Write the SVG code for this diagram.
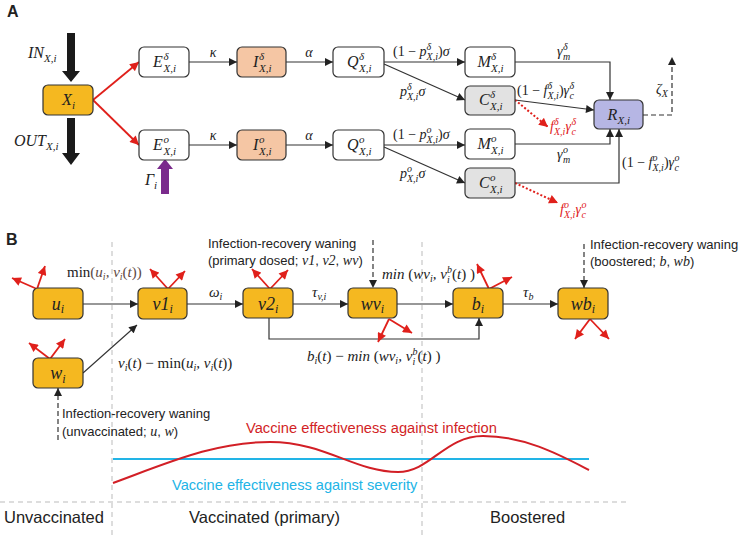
<svg xmlns="http://www.w3.org/2000/svg" width="742" height="535" viewBox="0 0 742 535">
<style>
.box{stroke:#333;stroke-width:1.2}
.gold{fill:#F5B820}
.peach{fill:#F5C6A4}
.white{fill:#fff}
.gray{fill:#E2E2E2}
.lav{fill:#B6B6E4}
.m{font-family:"Liberation Serif","DejaVu Serif",serif;font-style:italic;fill:#222}
.nl{font-size:16px}
.s{font-size:11px}
.bl{font-size:18px}
.bs{font-size:12px}
.el{font-size:14px}
.es{font-size:10px}
.bt{font-size:15px}
.up{font-style:normal}
.sans{font-family:"Liberation Sans","Noto Sans",sans-serif;fill:#222}
.wan{font-size:13px}
.ln{fill:none;stroke:#333;stroke-width:1.2}
.red{fill:none;stroke:#E0201B;stroke-width:1.8}
.dot{fill:none;stroke:#E0201B;stroke-width:2;stroke-dasharray:2 2}
.dash{fill:none;stroke:#333;stroke-width:1.2;stroke-dasharray:5 3}
.gdash{fill:none;stroke:#bbb;stroke-width:1;stroke-dasharray:5 4}
</style>
<defs>
<marker id="ab" viewBox="0 0 10 10" refX="10" refY="5" markerWidth="9" markerHeight="8" markerUnits="userSpaceOnUse" orient="auto"><path d="M0,0 L10,5 L0,10 z" fill="#222"/></marker>
<marker id="ar" viewBox="0 0 10 10" refX="10" refY="5" markerWidth="10" markerHeight="9" markerUnits="userSpaceOnUse" orient="auto"><path d="M0,0 L10,5 L0,10 z" fill="#E0201B"/></marker>
</defs>
<rect width="742" height="535" fill="#fff"/>

<text class="sans" x="7" y="17" font-size="16" font-weight="bold">A</text>
<text class="sans" x="6" y="245" font-size="16" font-weight="bold">B</text>

<!-- background guides for panel B -->
<g id="guides">
<path class="gdash" d="M112,242 V535 M422,242 V535 M0,502 H630"/>
<path d="M113,459 H589" fill="none" stroke="#22B4E6" stroke-width="2"/>
<path d="M113,483 C170,462 215,442 270,442 C325,442 355,472 398,472 C430,472 445,436 483,436 C525,436 560,455 589,470" fill="none" stroke="#D21F26" stroke-width="2"/>
<text class="sans" x="246" y="433" font-size="14.7" style="fill:#D21F26">Vaccine effectiveness against infection</text>
<text class="sans" x="172" y="490" font-size="14.6" style="fill:#22B4E6">Vaccine effectiveness against severity</text>
<text class="sans" x="4" y="523" font-size="16.5">Unvaccinated</text>
<text class="sans" x="189" y="523" font-size="16.5">Vaccinated (primary)</text>
<text class="sans" x="490" y="523" font-size="16.5">Boostered</text>
</g>

<!-- connectors -->
<g id="connectors">
<!-- panel A -->
<path d="M67,33 H75 V71 H80 L71,82 L62,71 H67 Z" fill="#1a1a1a"/>
<path d="M67,118 H75 V153 H80 L71,165 L62,153 H67 Z" fill="#1a1a1a"/>
<path d="M161,194 V169 H157 L165,159 L173,169 H169 V194 Z" fill="#7A2A8C"/>
<path class="red" d="M93,100 L139,62" marker-end="url(#ar)"/>
<path class="red" d="M93,100 L139,145" marker-end="url(#ar)"/>
<path class="ln" d="M189,62 H237" marker-end="url(#ab)"/>
<path class="ln" d="M189,145 H237" marker-end="url(#ab)"/>
<path class="ln" d="M286,62 H333" marker-end="url(#ab)"/>
<path class="ln" d="M286,145 H333" marker-end="url(#ab)"/>
<path class="ln" d="M384,62 H465" marker-end="url(#ab)"/>
<path class="ln" d="M384,64 L465,100" marker-end="url(#ab)"/>
<path class="ln" d="M384,145 H465" marker-end="url(#ab)"/>
<path class="ln" d="M384,147 L465,183" marker-end="url(#ab)"/>
<path class="ln" d="M515,62 H610 V100" marker-end="url(#ab)"/>
<path class="ln" d="M515,100 L594,110" marker-end="url(#ab)"/>
<path class="ln" d="M515,144 H610 V129" marker-end="url(#ab)"/>
<path class="ln" d="M515,183 H619 V129" marker-end="url(#ab)"/>
<path class="dot" d="M515,100 L548,127" marker-end="url(#ar)"/>
<path class="dot" d="M515,183 L558,203" marker-end="url(#ar)"/>
<path class="dash" d="M643,115 H672 V57" marker-end="url(#ab)"/>

<text class="m el" x="213" y="57" text-anchor="middle">κ</text>
<text class="m el" x="213" y="140" text-anchor="middle">κ</text>
<text class="m el" x="309" y="57" text-anchor="middle">α</text>
<text class="m el" x="309" y="140" text-anchor="middle">α</text>

<text class="m el" x="393" y="56"><tspan class="up">(1 − </tspan>p<tspan class="es" x="426.6" y="50">δ</tspan><tspan class="es" x="426.6" y="60">X,i</tspan><tspan class="up" y="56">)</tspan>σ</text>
<text class="m el" x="393" y="139"><tspan class="up">(1 − </tspan>p<tspan class="es" x="426.6" y="133">o</tspan><tspan class="es" x="426.6" y="143">X,i</tspan><tspan class="up" y="139">)</tspan>σ</text>
<text class="m el" x="400" y="96">p<tspan class="es" x="407" y="90">δ</tspan><tspan class="es" x="407" y="100">X,i</tspan><tspan y="96">σ</tspan></text>
<text class="m el" x="400" y="178">p<tspan class="es" x="407" y="172">o</tspan><tspan class="es" x="407" y="182">X,i</tspan><tspan y="178">σ</tspan></text>

<text class="m el" x="557" y="56">γ<tspan class="es" x="563" y="50">δ</tspan><tspan class="es" x="563" y="60">m</tspan></text>
<text class="m el" x="557" y="159">γ<tspan class="es" x="563" y="153">o</tspan><tspan class="es" x="563" y="163">m</tspan></text>

<text class="m el" x="517" y="95"><tspan class="up">(1 − </tspan>f<tspan class="es" x="547.5" y="89">δ</tspan><tspan class="es" x="547.5" y="99">X,i</tspan><tspan class="up" y="95">)</tspan>γ<tspan class="es" x="569.5" y="89">δ</tspan><tspan class="es" x="569.5" y="99">c</tspan></text>
<text class="m el" x="622" y="167"><tspan class="up">(1 − </tspan>f<tspan class="es" x="652.5" y="161">o</tspan><tspan class="es" x="652.5" y="171">X,i</tspan><tspan class="up" y="167">)</tspan>γ<tspan class="es" x="674.5" y="161">o</tspan><tspan class="es" x="674.5" y="171">c</tspan></text>

<text class="m el" x="550" y="131" style="fill:#E0201B">f<tspan class="es" x="554" y="125">δ</tspan><tspan class="es" x="554" y="135">X,i</tspan><tspan y="131">γ</tspan><tspan class="es" x="571.5" y="125">δ</tspan><tspan class="es" x="571.5" y="135">c</tspan></text>
<text class="m el" x="560" y="214" style="fill:#E0201B">f<tspan class="es" x="564" y="208">o</tspan><tspan class="es" x="564" y="218">X,i</tspan><tspan y="214">γ</tspan><tspan class="es" x="581.5" y="208">o</tspan><tspan class="es" x="581.5" y="218">c</tspan></text>

<text class="m el" x="656" y="94">ζ<tspan class="es" dy="3">X</tspan></text>

<text class="m nl" x="28" y="58">IN<tspan class="s" dy="4">X,i</tspan></text>
<text class="m nl" x="14" y="146">OUT<tspan class="s" dy="4">X,i</tspan></text>
<text class="m nl" x="145" y="185">Γ<tspan class="s" dy="4">i</tspan></text>

<!-- panel B -->
<path class="ln" d="M83,304 H138" marker-end="url(#ab)"/>
<path class="ln" d="M83,373 L137,325" marker-end="url(#ab)"/>
<path class="ln" d="M187,304 H243" marker-end="url(#ab)"/>
<path class="ln" d="M293,304 H348" marker-end="url(#ab)"/>
<path class="ln" d="M397,304 H453" marker-end="url(#ab)"/>
<path class="ln" d="M503,304 H558" marker-end="url(#ab)"/>
<path class="ln" d="M269,318 V339 H479 V318" marker-end="url(#ab)"/>
<path class="dash" d="M373,240 V288" marker-end="url(#ab)"/>
<path class="dash" d="M584,244 V288" marker-end="url(#ab)"/>
<path class="dash" d="M58,440 V388" marker-end="url(#ab)"/>

<path class="red" d="M37,289 L12,278" marker-end="url(#ar)"/>
<path class="red" d="M37,289 L45,266" marker-end="url(#ar)"/>
<path class="red" d="M168,289 L150,269" marker-end="url(#ar)"/>
<path class="red" d="M168,289 L185,271" marker-end="url(#ar)"/>
<path class="red" d="M50,359 L29,343" marker-end="url(#ar)"/>
<path class="red" d="M50,359 L65,339" marker-end="url(#ar)"/>
<path class="red" d="M270,289 L252,269" marker-end="url(#ar)"/>
<path class="red" d="M270,289 L288,270" marker-end="url(#ar)"/>
<path class="red" d="M389,319 L378,342" marker-end="url(#ar)"/>
<path class="red" d="M389,319 L412,333" marker-end="url(#ar)"/>
<path class="red" d="M489,289 L477,264" marker-end="url(#ar)"/>
<path class="red" d="M489,289 L512,277" marker-end="url(#ar)"/>
<path class="red" d="M590,319 L575,339" marker-end="url(#ar)"/>
<path class="red" d="M590,319 L609,339" marker-end="url(#ar)"/>

<text class="m bt" x="67" y="277"><tspan class="up">min</tspan><tspan class="up" fill="#5E4A45">(</tspan><tspan fill="#5E4A45">u</tspan><tspan class="es" dy="3" fill="#5E4A45">i</tspan><tspan dy="-3" fill="#5E4A45">, ν</tspan><tspan class="es" dy="3" fill="#5E4A45">i</tspan><tspan class="up" dy="-3" fill="#5E4A45">(</tspan><tspan fill="#5E4A45">t</tspan><tspan class="up" fill="#5E4A45">))</tspan></text>
<text class="m bt" x="118" y="368">ν<tspan class="es" dy="3">i</tspan><tspan class="up" dy="-3">(</tspan>t<tspan class="up">) − min(</tspan>u<tspan class="es" dy="3">i</tspan><tspan dy="-3">, ν</tspan><tspan class="es" dy="3">i</tspan><tspan class="up" dy="-3">(</tspan>t<tspan class="up">))</tspan></text>
<text class="m bt" x="209" y="297">ω<tspan class="es" dy="3">i</tspan></text>
<text class="m bt" x="312" y="297">τ<tspan class="es" dy="3">v,i</tspan></text>
<text class="m bt" x="523" y="297">τ<tspan class="es" dy="3">b</tspan></text>
<text class="m bt" x="382" y="279">min <tspan class="up">(</tspan>wv<tspan class="es" dy="3">i</tspan><tspan dy="-3">, ν</tspan><tspan class="es" x="447" y="283">i</tspan><tspan class="es" x="447" y="273">b</tspan><tspan class="up" y="279">(</tspan>t<tspan class="up">) )</tspan></text>
<text class="m bt" x="307" y="361">b<tspan class="es" dy="3">i</tspan><tspan class="up" dy="-3">(</tspan>t<tspan class="up">) − </tspan>min <tspan class="up">(</tspan>wv<tspan class="es" dy="3">i</tspan><tspan dy="-3">, ν</tspan><tspan class="es" x="412.5" y="365">i</tspan><tspan class="es" x="412.5" y="355">b</tspan><tspan class="up" y="361">(</tspan>t<tspan class="up">) )</tspan></text>

<text class="sans wan" x="208" y="248">Infection-recovery waning</text>
<text class="sans wan" x="208" y="265">(primary dosed; <tspan class="m" font-size="14">v1</tspan>, <tspan class="m" font-size="14">v2</tspan>, <tspan class="m" font-size="14">wv</tspan>)</text>
<text class="sans wan" x="590" y="249">Infection-recovery waning</text>
<text class="sans wan" x="590" y="266">(boostered; <tspan class="m" font-size="14">b</tspan>, <tspan class="m" font-size="14">wb</tspan>)</text>
<text class="sans wan" x="62" y="418">Infection-recovery waning</text>
<text class="sans wan" x="62" y="436">(unvaccinated; <tspan class="m" font-size="14">u</tspan>, <tspan class="m" font-size="14">w</tspan>)</text>
</g>

<!-- panel A nodes -->
<g id="X"><rect class="box gold" x="43" y="85" width="50" height="30" rx="5"/><text class="m nl" x="62" y="105">X<tspan class="s" x="72" y="109">i</tspan></text></g>
<g id="Ed"><rect class="box white" x="139" y="47" width="50" height="30" rx="5"/><text class="m nl" x="153" y="67">E<tspan class="s" x="163.5" y="60">δ</tspan><tspan class="s" x="163.5" y="72">X,i</tspan></text></g>
<g id="Eo"><rect class="box white" x="139" y="130" width="50" height="30" rx="5"/><text class="m nl" x="153" y="150">E<tspan class="s" x="163.5" y="143">o</tspan><tspan class="s" x="163.5" y="155">X,i</tspan></text></g>
<g id="Id"><rect class="box peach" x="237" y="47" width="49" height="30" rx="5"/><text class="m nl" x="253" y="67">I<tspan class="s" x="259" y="60">δ</tspan><tspan class="s" x="259" y="72">X,i</tspan></text></g>
<g id="Io"><rect class="box peach" x="237" y="130" width="49" height="30" rx="5"/><text class="m nl" x="253" y="150">I<tspan class="s" x="259" y="143">o</tspan><tspan class="s" x="259" y="155">X,i</tspan></text></g>
<g id="Qd"><rect class="box white" x="333" y="47" width="51" height="30" rx="5"/><text class="m nl" x="347" y="67">Q<tspan class="s" x="359" y="60">δ</tspan><tspan class="s" x="359" y="72">X,i</tspan></text></g>
<g id="Qo"><rect class="box white" x="333" y="130" width="51" height="30" rx="5"/><text class="m nl" x="347" y="150">Q<tspan class="s" x="359" y="143">o</tspan><tspan class="s" x="359" y="155">X,i</tspan></text></g>
<g id="Md"><rect class="box white" x="465" y="47" width="50" height="30" rx="5"/><text class="m nl" x="477.5" y="67">M<tspan class="s" x="491" y="60">δ</tspan><tspan class="s" x="491" y="72">X,i</tspan></text></g>
<g id="Cd"><rect class="box gray" x="465" y="86" width="50" height="29" rx="5"/><text class="m nl" x="479" y="105">C<tspan class="s" x="490" y="98">δ</tspan><tspan class="s" x="490" y="110">X,i</tspan></text></g>
<g id="Mo"><rect class="box white" x="465" y="129" width="50" height="30" rx="5"/><text class="m nl" x="477.5" y="149">M<tspan class="s" x="491" y="142">o</tspan><tspan class="s" x="491" y="154">X,i</tspan></text></g>
<g id="Co"><rect class="box gray" x="465" y="168" width="50" height="30" rx="5"/><text class="m nl" x="479" y="188">C<tspan class="s" x="490" y="181">o</tspan><tspan class="s" x="490" y="193">X,i</tspan></text></g>
<g id="R"><rect class="box lav" x="594" y="100" width="49" height="29" rx="5"/><text class="m nl" x="607.5" y="119.5">R<tspan class="s" x="617.5" y="123.5">X,i</tspan></text></g>

<!-- panel B nodes -->
<g id="u"><rect class="box gold" x="33" y="288" width="50" height="31" rx="5"/><text class="m bl" x="51.8" y="309.5">u<tspan class="bs" x="60.8" y="313">i</tspan></text></g>
<g id="v1"><rect class="box gold" x="138" y="288" width="49" height="31" rx="5"/><text class="m bl" x="152.4" y="309.5">v1<tspan class="bs" x="169.4" y="313">i</tspan></text></g>
<g id="w"><rect class="box gold" x="33" y="358" width="50" height="30" rx="5"/><text class="m bl" x="50.3" y="379">w<tspan class="bs" x="62.3" y="382.5">i</tspan></text></g>
<g id="v2"><rect class="box gold" x="243" y="288" width="50" height="30" rx="5"/><text class="m bl" x="257.9" y="309.5">v2<tspan class="bs" x="274.9" y="313">i</tspan></text></g>
<g id="wv"><rect class="box gold" x="348" y="288" width="49" height="30" rx="5"/><text class="m bl" x="360.8" y="309.5">wv<tspan class="bs" x="380.8" y="313">i</tspan></text></g>
<g id="b"><rect class="box gold" x="453" y="288" width="50" height="30" rx="5"/><text class="m bl" x="471.8" y="309.5">b<tspan class="bs" x="480.8" y="313">i</tspan></text></g>
<g id="wb"><rect class="box gold" x="558" y="288" width="50" height="31" rx="5"/><text class="m bl" x="570.8" y="309.5">wb<tspan class="bs" x="591.8" y="313">i</tspan></text></g>
</svg>
